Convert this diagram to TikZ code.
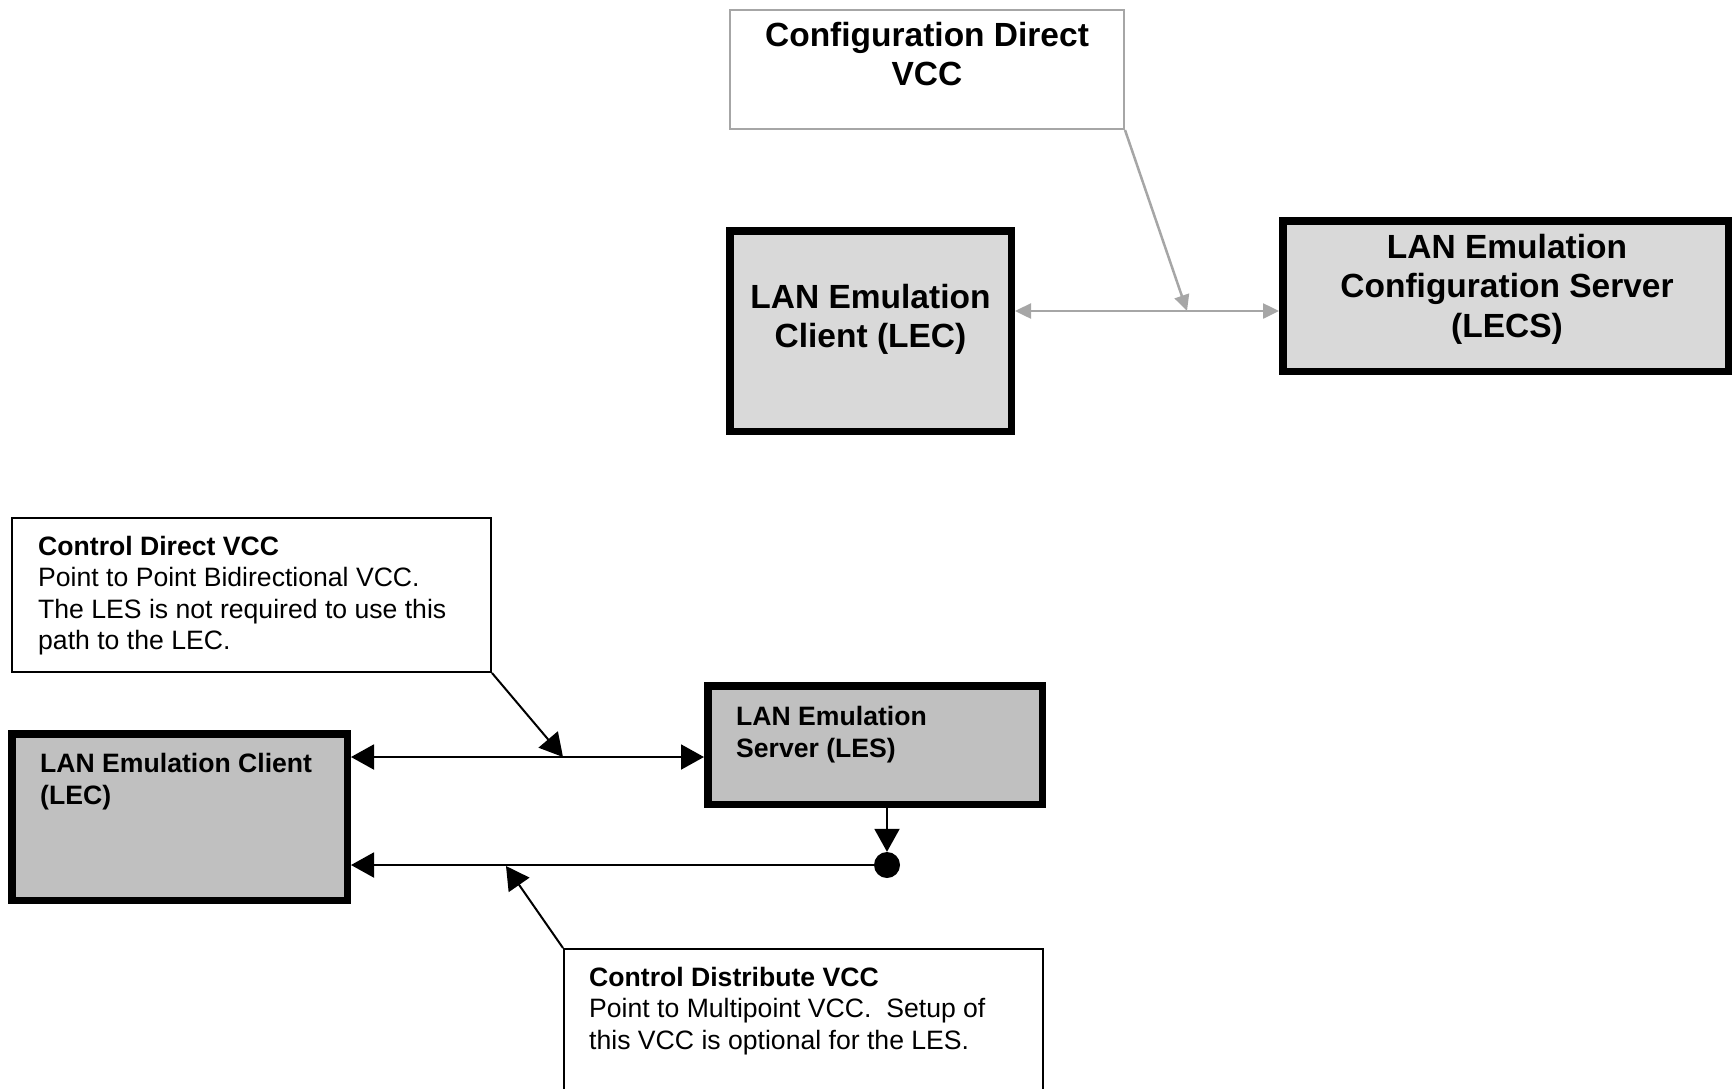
\documentclass[tikz,border=0pt]{standalone}
\usepackage{fontspec}
\setmainfont{Liberation Sans}
\usetikzlibrary{arrows.meta}
\definecolor{lightfill}{HTML}{D9D9D9}
\definecolor{darkfill}{HTML}{C0C0C0}
\definecolor{callgray}{HTML}{A6A6A6}
\begin{document}
\begin{tikzpicture}[x=1pt,y=-1pt,
  bigtxt/.style={font=\fontsize{33.5}{39.5}\selectfont\bfseries, inner sep=0, align=center},
  smalltxt/.style={font=\fontsize{26.6}{31.5}\selectfont, inner sep=0, align=left},
  thickbox/.style={draw=black, line width=7.5pt, anchor=north west, inner sep=0},
  calloutbox/.style={draw=black, fill=white, line width=2pt, anchor=north west, inner sep=0},
  grayarrow/.style={draw=callgray, line width=2.5pt, -{Triangle[length=16pt,width=15pt]}},
  grayboth/.style={draw=callgray, line width=2.5pt, {Triangle[length=16pt,width=15pt]}-{Triangle[length=16pt,width=15pt]}},
  blkarrow/.style={draw=black, line width=2pt, -{Triangle[length=23pt,width=25pt]}},
  blkboth/.style={draw=black, line width=2pt, {Triangle[length=23pt,width=25pt]}-{Triangle[length=23pt,width=25pt]}}
]
\useasboundingbox (0,0) rectangle (1732,1088);
\clip (0,0) rectangle (1732,1088);

% ---------- upper part ----------
\node[calloutbox, draw=callgray, minimum width=394pt, minimum height=119pt] (cfgbox) at (729,9) {};
\node[bigtxt, anchor=north] (cfgtxt) at (927,22) {Configuration Direct\\VCC};

\node[thickbox, fill=lightfill, minimum width=281.5pt, minimum height=200.5pt] (lectop) at (726,227) {};
\node[bigtxt, anchor=north] (lectoptxt) at (870.5,284) {LAN Emulation\\Client (LEC)};

\node[thickbox, fill=lightfill, minimum width=445.5pt, minimum height=150.5pt] (lecs) at (1279,217) {};
\node[bigtxt, anchor=north] (lecstxt) at (1507,234) {LAN Emulation\\Configuration Server\\(LECS)};

\coordinate (topjoin) at (1187,311);
\draw[grayboth] (lectop.east |- topjoin) -- (lecs.west |- topjoin);
\draw[grayarrow] (cfgbox.south east) -- (topjoin);

% ---------- lower part ----------
\node[calloutbox, minimum width=479pt, minimum height=154pt] (cdbox) at (11,517) {};
\node[smalltxt, anchor=north west] (cdtxt) at (38,536) {\textbf{Control Direct VCC}\\Point to Point Bidirectional VCC.\\The LES is not required to use this\\path to the LEC.};

\node[thickbox, fill=darkfill, minimum width=335.5pt, minimum height=166.5pt] (leclow) at (8,730) {};
\node[smalltxt, font=\fontsize{26.6}{31.5}\selectfont\bfseries, anchor=north west] (leclowtxt) at (40,753.5) {LAN Emulation Client\\(LEC)};

\node[thickbox, fill=darkfill, minimum width=334.5pt, minimum height=118.5pt] (les) at (704,682) {};
\node[smalltxt, font=\fontsize{26.6}{31.5}\selectfont\bfseries, anchor=north west] (lestxt) at (736,706.5) {LAN Emulation\\Server (LES)};

\node[circle, fill=black, minimum size=26pt, inner sep=0] (dot) at (887,865) {};

\node[calloutbox, minimum width=479pt, minimum height=170pt] (cdistbox) at (563,948) {};
\node[smalltxt, anchor=north west] (cdisttxt) at (589,967) {\textbf{Control Distribute VCC}\\Point to Multipoint VCC.\ \ Setup of\\this VCC is optional for the LES.};

\coordinate (cdjoin) at (563,757);
\coordinate (cdistjoin) at (506,866);
\draw[blkboth] (leclow.east |- cdjoin) -- (les.west |- cdjoin);
\draw[blkarrow] (cdbox.south east) -- (cdjoin);
\draw[blkarrow] (les.south -| dot) -- (dot.north);
\draw[blkarrow] (dot.center) -- (leclow.east |- dot);
\draw[blkarrow] (cdistbox.north west) -- (cdistjoin);
\end{tikzpicture}
\end{document}
